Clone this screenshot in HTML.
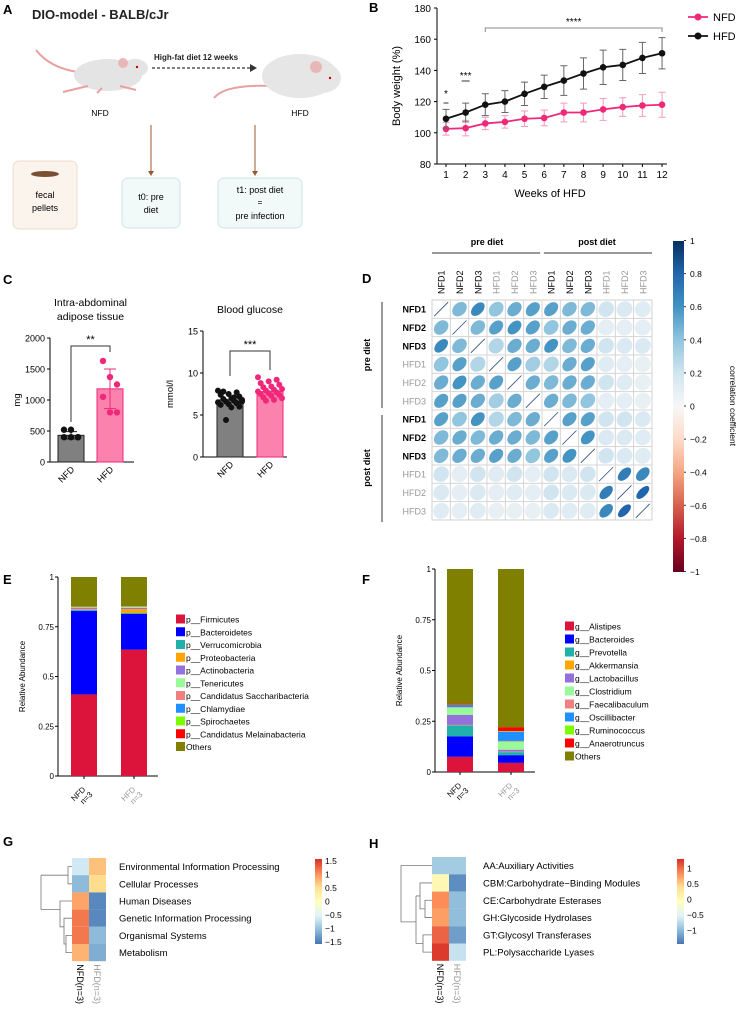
<!DOCTYPE html>
<html><head><meta charset="utf-8"><style>
body{margin:0;background:#fff;}
svg{display:block;font-family:"Liberation Sans",sans-serif;}
</style></head><body>
<svg id="fig" width="740" height="1015" viewBox="0 0 740 1015">
<g font-weight="bold" font-size="13">
<text x="3" y="14">A</text><text x="369" y="12">B</text><text x="3" y="284">C</text><text x="362" y="283">D</text>
<text x="3" y="584">E</text><text x="362" y="584">F</text><text x="3" y="846">G</text><text x="369" y="848">H</text></g>
<!-- Panel A -->
<g>
<text x="32" y="19" font-size="13" font-weight="bold" fill="#222">DIO-model - BALB/cJr</text>
<path d="M78,72 Q50,68 36,50" stroke="#e8a0a0" stroke-width="2" fill="none"/>
<ellipse cx="108" cy="75" rx="34" ry="16" fill="#e4e4e4"/>
<ellipse cx="135" cy="68" rx="13" ry="9" fill="#e4e4e4"/>
<circle cx="123" cy="63" r="5" fill="#e8b8b8"/><circle cx="137" cy="67" r="1.2" fill="#c00"/>
<path d="M88,86 L63,92 M102,88 L97,93 M120,86 L136,90" stroke="#e8a0a0" stroke-width="2"/>
<line x1="152" y1="68" x2="250" y2="68" stroke="#333" stroke-width="1.2" stroke-dasharray="3,2"/>
<path d="M250,64 L257,68 L250,72Z" fill="#333"/>
<text x="154" y="60" font-size="8" font-weight="bold" fill="#222">High-fat diet 12 weeks</text>
<path d="M272,86 Q225,84 214,98" stroke="#e8a0a0" stroke-width="2" fill="none"/>
<ellipse cx="300" cy="76" rx="38" ry="22" fill="#e6e6e6"/>
<ellipse cx="322" cy="78" rx="19" ry="15" fill="#e6e6e6"/>
<circle cx="316" cy="67" r="6" fill="#e8b8b8"/><circle cx="330" cy="78" r="1.2" fill="#c00"/>
<text x="100" y="116" font-size="8.5" text-anchor="middle">NFD</text>
<text x="300" y="116" font-size="8.5" text-anchor="middle">HFD</text>
<line x1="151" y1="125" x2="151" y2="172" stroke="#9a5a2a" stroke-width="1"/><path d="M148,171 L151,176 L154,171Z" fill="#9a5a2a"/>
<line x1="255" y1="125" x2="255" y2="172" stroke="#9a5a2a" stroke-width="1"/><path d="M252,171 L255,176 L258,171Z" fill="#9a5a2a"/>
<rect x="13" y="161" width="64" height="68" rx="6" fill="#fbf4ec" stroke="#eddccb"/>
<ellipse cx="45" cy="174" rx="14" ry="3" fill="#7a5035"/>
<text x="45" y="198" font-size="9" text-anchor="middle">fecal</text><text x="45" y="211" font-size="9" text-anchor="middle">pellets</text>
<rect x="122" y="178" width="58" height="50" rx="6" fill="#f1f9f9" stroke="#cfe5e3"/>
<text x="151" y="200" font-size="9" text-anchor="middle">t0: pre</text><text x="151" y="213" font-size="9" text-anchor="middle">diet</text>
<rect x="218" y="178" width="84" height="50" rx="6" fill="#f1f9f9" stroke="#cfe5e3"/>
<text x="260" y="193" font-size="9" text-anchor="middle">t1: post diet</text><text x="260" y="205" font-size="8" text-anchor="middle">=</text><text x="260" y="219" font-size="9" text-anchor="middle">pre infection</text>
</g>
<g id="pB"></g>
<g id="pC"></g>
<g id="pD"></g>
<g id="pE"></g>
<g id="pF"></g>
<g id="pG"></g>
<g id="pH"></g>
<defs>
<linearGradient id="rdbu" x1="0" y1="0" x2="0" y2="1">
<stop offset="0" stop-color="#053061"/><stop offset="0.1" stop-color="#2166ac"/><stop offset="0.2" stop-color="#4393c3"/><stop offset="0.3" stop-color="#92c5de"/><stop offset="0.4" stop-color="#d1e5f0"/><stop offset="0.5" stop-color="#f7f7f7"/><stop offset="0.6" stop-color="#fddbc7"/><stop offset="0.7" stop-color="#f4a582"/><stop offset="0.8" stop-color="#d6604d"/><stop offset="0.9" stop-color="#b2182b"/><stop offset="1" stop-color="#67001f"/></linearGradient>
<linearGradient id="ryb" x1="0" y1="1" x2="0" y2="0">
<stop offset="0" stop-color="#4575b4"/><stop offset="0.17" stop-color="#91bfdb"/><stop offset="0.33" stop-color="#e0f3f8"/><stop offset="0.5" stop-color="#ffffbf"/><stop offset="0.67" stop-color="#fee090"/><stop offset="0.83" stop-color="#fc8d59"/><stop offset="1" stop-color="#d73027"/></linearGradient>
</defs>
</svg>
<script>
const NS="http://www.w3.org/2000/svg";
function mk(p,t,a,txt){const e=document.createElementNS(NS,t);for(const k in a)e.setAttribute(k,a[k]);if(txt!==undefined)e.textContent=txt;p.appendChild(e);return e;}
// ---------- data ----------
const weeks=[1,2,3,4,5,6,7,8,9,10,11,12];
const nfdWeight=[102.5,103,106,107,109,109.5,113,113,115,116.5,117.5,118];
const nfdWeightErr=[4,5,4,4,5,5,6,6,7,6,7,8];
const hfdWeight=[109,113,118,120,125,129.5,133.5,138,142,143.5,148,151];
const hfdWeightErr=[6,6,7,7,7.5,7.5,9.5,10,11,10,10,10];
const weightTicks=[80,100,120,140,160,180];
const fatNFD=[520,520,400,400,400,400];
const fatHFD=[1630,1370,1250,1050,800,800];
const fatMeans=[430,1180];
const fatSD=[60,320];
const fatTicks=[0,500,1000,1500,2000];
const gluNFD=[7.9,7.7,7.5,7.4,7.2,7.0,6.9,6.8,6.7,6.6,6.5,6.4,6.3,6.2,6.0,5.9,7.8,6.6,7.1,4.4];
const gluHFD=[9.5,9.2,9.0,8.8,8.6,8.4,8.3,8.1,8.0,7.9,7.8,7.7,7.6,7.5,7.4,7.3,7.1,7.0,6.8,6.7];
const gluMeans=[6.8,7.8];
const gluTicks=[0,5,10,15];
const corrLabels=["NFD1","NFD2","NFD3","HFD1","HFD2","HFD3","NFD1","NFD2","NFD3","HFD1","HFD2","HFD3"];
const corr=[
[1,.45,.65,.4,.5,.55,.55,.45,.45,.2,.15,.12],
[.45,1,.45,.55,.6,.55,.4,.5,.5,.1,.1,.1],
[.65,.45,1,.3,.5,.5,.6,.45,.5,.2,.15,.15],
[.4,.55,.3,1,.55,.35,.3,.5,.55,.12,.1,.08],
[.5,.6,.5,.55,1,.5,.45,.5,.5,.2,.12,.08],
[.55,.55,.5,.35,.5,1,.5,.45,.4,.1,.1,.08],
[.55,.4,.6,.3,.45,.5,1,.55,.55,.2,.2,.15],
[.45,.5,.45,.5,.5,.45,.55,1,.6,.15,.15,.12],
[.45,.5,.5,.55,.5,.4,.55,.6,1,.2,.15,.12],
[.2,.1,.2,.12,.2,.1,.2,.15,.2,1,.7,.65],
[.15,.1,.15,.1,.12,.1,.2,.15,.15,.7,1,.8],
[.12,.1,.12,.08,.08,.08,.15,.12,.12,.65,.8,1]];
const corrTicks=[1,0.8,0.6,0.4,0.2,0,-0.2,-0.4,-0.6,-0.8,-1];
const phylumNames=["p__Firmicutes","p__Bacteroidetes","p__Verrucomicrobia","p__Proteobacteria","p__Actinobacteria","p__Tenericutes","p__Candidatus Saccharibacteria","p__Chlamydiae","p__Spirochaetes","p__Candidatus Melainabacteria","Others"];
const phylumColors=["#dc143c","#0000ff","#20b2aa","#ffa500","#9370db","#98fb98","#f08080","#1e90ff","#7cfc00","#ff0000","#808000"];
const phylumNFD=[.41,.42,.004,.004,.006,.003,.002,.001,.001,.001,.148];
const phylumHFD=[.635,.18,.004,.02,.006,.003,.002,.001,.001,.001,.147];
const genusNames=["g__Alistipes","g__Bacteroides","g__Prevotella","g__Akkermansia","g__Lactobacillus","g__Clostridium","g__Faecalibaculum","g__Oscillibacter","g__Ruminococcus","g__Anaerotruncus","Others"];
const genusNFD=[.075,.10,.055,.002,.05,.035,.003,.01,.002,.005,.663];
const genusHFD=[.045,.038,.015,.002,.01,.04,.003,.045,.003,.02,.779];
const keggNames=["Environmental Information Processing","Cellular Processes","Human Diseases","Genetic Information Processing","Organismal Systems","Metabolism"];
const keggNFD=[-0.7,-1.2,1.0,1.3,1.3,0.9];
const keggHFD=[0.8,0.6,-1.6,-1.6,-1.2,-1.3];
const keggTicks=[1.5,1,0.5,0,-0.5,-1,-1.5];
const cazyNames=["AA:Auxiliary Activities","CBM:Carbohydrate\u2212Binding Modules","CE:Carbohydrate Esterases","GH:Glycoside Hydrolases","GT:Glycosyl Transferases","PL:Polysaccharide Lyases"];
const cazyNFD=[-0.8,0.1,0.9,0.8,1.1,1.3];
const cazyHFD=[-0.8,-1.2,-0.9,-0.9,-1.1,-0.6];
const cazyTicks=[1,0.5,0,-0.5,-1];

// ---------- Panel B ----------
(function(){
const g=document.getElementById('pB');
const x=w=>446+(w-1)*19.64, y=v=>164-(v-80)*1.56;
mk(g,'line',{x1:437,y1:8,x2:437,y2:164,stroke:'#000','stroke-width':1});
mk(g,'line',{x1:437,y1:164,x2:667,y2:164,stroke:'#000','stroke-width':1});
weightTicks.forEach(t=>{mk(g,'line',{x1:434,y1:y(t),x2:437,y2:y(t),stroke:'#000'});
 const e=mk(g,'text',{x:431,y:y(t)+4,'font-size':10,'text-anchor':'end'},t);});
weeks.forEach(w=>{mk(g,'line',{x1:x(w),y1:164,x2:x(w),y2:167,stroke:'#000'});mk(g,'text',{x:x(w),y:178,'font-size':10,'text-anchor':'middle'},w);});
mk(g,'text',{x:550,y:197,'font-size':11,'text-anchor':'middle'},'Weeks of HFD');
mk(g,'text',{x:0,y:0,'font-size':11,'text-anchor':'middle',transform:'translate(400,86) rotate(-90)'},'Body weight (%)');
[[nfdWeight,nfdWeightErr,'#f0287a','#f49ab8','nfd'],[hfdWeight,hfdWeightErr,'#111','#666','hfd']].forEach(([d,e,c,ec,n])=>{
 d.forEach((v,i)=>{const xx=x(weeks[i]);
  mk(g,'path',{d:`M${xx},${y(v-e[i])}V${y(v+e[i])}M${xx-3.5},${y(v-e[i])}h7M${xx-3.5},${y(v+e[i])}h7`,stroke:ec,'stroke-width':1,fill:'none'});});
 const l=mk(g,'polyline',{points:d.map((v,i)=>x(weeks[i])+','+y(v)).join(' '),fill:'none',stroke:c,'stroke-width':1.8});
 
 d.forEach((v,i)=>{const p=mk(g,'circle',{cx:x(weeks[i]),cy:y(v),r:3.3,fill:c});});
});
mk(g,'text',{x:x(1),y:97,'font-size':10,'text-anchor':'middle'},'*');mk(g,'line',{x1:x(1)-2.5,y1:103,x2:x(1)+2.5,y2:103,stroke:'#333'});
mk(g,'text',{x:x(2),y:79,'font-size':10,'text-anchor':'middle'},'***');mk(g,'line',{x1:x(2)-4,y1:81,x2:x(2)+4,y2:81,stroke:'#333'});
mk(g,'path',{d:`M${x(3)},32V28H${x(12)}V32`,stroke:'#888',fill:'none'});
mk(g,'text',{x:(x(3)+x(12))/2,y:25,'font-size':10,'text-anchor':'middle'},'****');
[['NFD','#f0287a',17],['HFD','#111',36]].forEach(([t,c,yy])=>{const lg=mk(g,'g',{});
 mk(lg,'line',{x1:688,y1:yy,x2:708,y2:yy,stroke:c,'stroke-width':1.8});mk(lg,'circle',{cx:698,cy:yy,r:3.5,fill:c});mk(lg,'text',{x:713,y:yy+4,'font-size':11},t);});
})();

// ---------- Panel C ----------
function barChart(g,ax,y0,y1,vmax,ticks,means,ptsA,ptsB,sd,title,ylab,bx,sig,sigY,legY){
 const y=v=>y0-(v/vmax)*(y0-y1);
 mk(g,'line',{x1:ax,y1:y1,x2:ax,y2:y0,stroke:'#000'});mk(g,'line',{x1:ax,y1:y0,x2:ax+84,y2:y0,stroke:'#000'});
 ticks.forEach(t=>{mk(g,'line',{x1:ax-3,y1:y(t),x2:ax,y2:y(t),stroke:'#000'});mk(g,'text',{x:ax-5,y:y(t)+3.5,'font-size':9,'text-anchor':'end'},t);});
 const cols=[['#808080','#222'],['#fb82ad','#f0287a']];
 [0,1].forEach(i=>{const b=mk(g,'rect',{x:bx[i],y:y(means[i]),width:26,height:y0-y(means[i]),fill:cols[i][0],stroke:cols[i][1],'stroke-width':1});
  
  const cx=bx[i]+13;
  if(sd){mk(g,'path',{d:`M${cx},${y(means[i]-sd[i])}V${y(means[i]+sd[i])}M${cx-6},${y(means[i]+sd[i])}h12M${cx-6},${y(means[i]-sd[i])}h12`,stroke:i?'#f0287a':'#222',fill:'none'});}
  const pts=i?ptsB:ptsA;
  pts.forEach((v,k)=>{const off=sd?((k%3)-1)*7:(((k*7)%10)/9-0.5)*24;const p=mk(g,'circle',{cx:cx+off,cy:y(v),r:sd?3.2:3,fill:i?'#f0287a':'#111'});});
  mk(g,'text',{x:0,y:0,'font-size':9,'text-anchor':'end',transform:`translate(${cx+4},${y0+8}) rotate(-45)`},i?'HFD':'NFD');
 });
 mk(g,'path',{d:`M${bx[0]+13},${legY[0]}V${sigY}H${bx[1]+13}V${legY[1]}`,stroke:'#333',fill:'none'});
 mk(g,'text',{x:(bx[0]+bx[1])/2+13,y:sigY-3,'font-size':11,'text-anchor':'middle'},sig);
 title.forEach((t,k)=>mk(g,'text',{x:(bx[0]+bx[1])/2+13,y:(title.length==2?306:313)+k*14,'font-size':10.5,'text-anchor':'middle'},t));
 mk(g,'text',{x:0,y:0,'font-size':9.5,'text-anchor':'middle',transform:`translate(${ax-30},${(y0+y1)/2}) rotate(-90)`},ylab);
}
(function(){const g=document.getElementById('pC');
 barChart(g,50,462,338,2000,fatTicks,fatMeans,fatNFD,fatHFD,fatSD,['Intra-abdominal','adipose tissue'],'mg',[58,97],'**',346,[422,352]);
 barChart(g,203,457,331,15,gluTicks,gluMeans,gluNFD,gluHFD,null,['Blood glucose'],'mmol/l',[217,257],'***',351,[376,370]);
})();

// ---------- Panel D ----------
function blueScale(r){const st=[[0,[247,247,247]],[.2,[209,229,240]],[.4,[146,197,222]],[.6,[67,147,195]],[.8,[33,102,172]],[1,[5,48,97]]];
 for(let i=0;i<st.length-1;i++){if(r<=st[i+1][0]){const t=(r-st[i][0])/(st[i+1][0]-st[i][0]);const c=st[i][1].map((v,k)=>Math.round(v+(st[i+1][1][k]-v)*t));return `rgb(${c})`;}}return 'rgb(5,48,97)';}
(function(){const g=document.getElementById('pD');const X0=432,Y0=300,S=18.33;
 mk(g,'rect',{x:X0,y:Y0,width:S*12,height:S*12,fill:'#fff',stroke:'#ccc'});
 corr.forEach((row,i)=>row.forEach((r,j)=>{const cx=X0+(j+.5)*S,cy=Y0+(i+.5)*S;
  mk(g,'rect',{x:X0+j*S,y:Y0+i*S,width:S,height:S,fill:'none',stroke:'#d4d4d4','stroke-width':0.8});
  if(i===j){mk(g,'line',{x1:cx-7,y1:cy+7,x2:cx+7,y2:cy-7,stroke:'#2a4a7a','stroke-width':0.8});return;}
  const a=8.2,b=8.2*Math.sqrt(1-r*0.95);const e=mk(g,'ellipse',{cx:cx,cy:cy,rx:a,ry:b,fill:blueScale(r),transform:`rotate(-45 ${cx} ${cy})`});
  }));
 corrLabels.forEach((l,i)=>{const c=l[0]=='N'?'#000':'#999';
  mk(g,'text',{x:X0-6,y:Y0+(i+.5)*S+3.5,'font-size':9,'text-anchor':'end',fill:c,'font-weight':l[0]=='N'?'bold':'normal'},l);
  mk(g,'text',{x:0,y:0,'font-size':9,fill:c,transform:`translate(${X0+(i+.5)*S+3.5},${Y0-6}) rotate(-90)`},l);});
 mk(g,'text',{x:X0+S*3,y:245,'font-size':9,'font-weight':'bold','text-anchor':'middle'},'pre diet');
 mk(g,'text',{x:X0+S*9,y:245,'font-size':9,'font-weight':'bold','text-anchor':'middle'},'post diet');
 mk(g,'line',{x1:X0,y1:253,x2:X0+S*5.9,y2:253,stroke:'#333'});mk(g,'line',{x1:X0+S*6.1,y1:253,x2:X0+S*12,y2:253,stroke:'#333'});
 mk(g,'line',{x1:382,y1:302,x2:382,y2:408,stroke:'#333'});mk(g,'line',{x1:382,y1:415,x2:382,y2:522,stroke:'#333'});
 mk(g,'text',{x:0,y:0,'font-size':9,'font-weight':'bold','text-anchor':'middle',transform:'translate(370,355) rotate(-90)'},'pre diet');
 mk(g,'text',{x:0,y:0,'font-size':9,'font-weight':'bold','text-anchor':'middle',transform:'translate(370,468) rotate(-90)'},'post diet');
 const cb=mk(g,'rect',{x:673,y:241,width:11,height:331,fill:'url(#rdbu)'});
 corrTicks.forEach(t=>{const yy=406-t*165.5;mk(g,'line',{x1:684,y1:yy,x2:686,y2:yy,stroke:'#333'});mk(g,'text',{x:690,y:yy+3.5,'font-size':8.5},String(t).replace('-','\u2212'));});
 mk(g,'text',{x:0,y:0,'font-size':8.5,'text-anchor':'middle',transform:'translate(730,406) rotate(90)'},'correlation coefficient');
})();

// ---------- Panels E/F ----------
function stacked(g,ax,yT,yB,bx,dA,dB,names,ticks,lx,ly,ls){
 const y=v=>yB-v*(yB-yT);
 mk(g,'line',{x1:ax,y1:yT,x2:ax,y2:yB,stroke:'#000'});mk(g,'line',{x1:ax,y1:yB,x2:ax+100,y2:yB,stroke:'#000'});
 ticks.forEach(t=>{mk(g,'line',{x1:ax-3,y1:y(t),x2:ax,y2:y(t),stroke:'#000'});mk(g,'text',{x:ax-4,y:y(t)+3,'font-size':8,'text-anchor':'end'},t);});
 mk(g,'text',{x:0,y:0,'font-size':8,'text-anchor':'middle',transform:`translate(${ax-33},${(yT+yB)/2}) rotate(-90)`},'Relative Abundance');
 [dA,dB].forEach((d,i)=>{let acc=0;d.forEach((v,k)=>{const r=mk(g,'rect',{x:bx[i],y:y(acc+v),width:26,height:y(acc)-y(acc+v),fill:phylumColors[k]});
  acc+=v;});
  mk(g,'line',{x1:bx[i]+13,y1:yB,x2:bx[i]+13,y2:yB+3,stroke:'#000'});
  const c=i?'#999':'#000';mk(g,'text',{x:0,y:0,'font-size':8,'text-anchor':'end',fill:c,transform:`translate(${bx[i]+15},${yB+14}) rotate(-45)`},i?'HFD':'NFD');
  mk(g,'text',{x:0,y:0,'font-size':8,'text-anchor':'end',fill:c,transform:`translate(${bx[i]+22},${yB+19}) rotate(-45)`},'n=3');});
 names.forEach((n,k)=>{const lg=mk(g,'g',{});
  mk(lg,'rect',{x:lx,y:ly+k*ls-4.5,width:9,height:9,fill:phylumColors[k]});mk(lg,'text',{x:lx+10,y:ly+k*ls+3.5,'font-size':8.5},n);});
}
stacked(document.getElementById('pE'),58,577,776,[71,121],phylumNFD,phylumHFD,phylumNames,[0,0.25,0.5,0.75,1],176,619,12.75);
stacked(document.getElementById('pF'),435,569,772,[447,498],genusNFD,genusHFD,genusNames,[0,0.25,0.5,0.75,1],565,626,13);

// ---------- Panels G/H ----------
function rybScale(v,m){const st=['#4575b4','#91bfdb','#e0f3f8','#ffffbf','#fee090','#fc8d59','#d73027'].map(h=>[1,3,5].map(i=>parseInt(h.substr(i,2),16)));
 let t=(v+m)/(2*m)*6;t=Math.max(0,Math.min(5.999,t));const i=Math.floor(t),f=t-i;const c=st[i].map((x,k)=>Math.round(x+(st[i+1][k]-x)*f));return `rgb(${c})`;}
function heat(g,cx0,cy0,cw,ch,a,b,names,lx,cbx,ticks,m,dendro,tickFn){
 [a,b].forEach((d,j)=>d.forEach((v,i)=>{const r=mk(g,'rect',{x:cx0+j*cw,y:cy0+i*ch,width:cw,height:ch,fill:rybScale(v,m)});}));
 names.forEach((n,i)=>mk(g,'text',{x:lx,y:cy0+(i+.5)*ch+3.5,'font-size':9.5},n));
 mk(g,'text',{x:0,y:0,'font-size':9,transform:`translate(${cx0+cw/2-3.5},${cy0+6*ch+3}) rotate(90)`},'NFD(n=3)');
 mk(g,'text',{x:0,y:0,'font-size':9,fill:'#999',transform:`translate(${cx0+cw*1.5-3.5},${cy0+6*ch+3}) rotate(90)`},'HFD(n=3)');
 mk(g,'path',{d:dendro,stroke:'#777',fill:'none','stroke-width':0.8});
 const cb=mk(g,'rect',{x:cbx,y:859,width:7,height:85,fill:'url(#ryb)'});
 ticks.forEach(t=>mk(g,'text',{x:cbx+10,y:tickFn(t)+3.5,'font-size':8.5},String(t).replace('-','\u2212')));
}
const rc=(y0,h,i)=>y0+(i+.5)*h;
(function(){const y0=858,h=17.2,x=72;const c=i=>rc(y0,h,i);
 const d=`M${x},${c(0)}H68V${c(1)}H${x} M68,${(c(0)+c(1))/2}H41 M${x},${c(4)}H66V${c(5)}H${x} M${x},${c(3)}H64V${(c(4)+c(5))/2}H66 M64,${(c(3)+c(4))/2}H60V${c(2)}H${x} M60,${(c(2)+c(3))/2}H41 M41,${(c(0)+c(1))/2}V${(c(2)+c(3))/2}`;
 heat(document.getElementById('pG'),72,y0,17,h,keggNFD,keggHFD,keggNames,119,315,keggTicks,1.75,d,t=>901-t*27);})();
(function(){const y0=857,h=17.3,x=432;const c=i=>rc(y0,h,i);
 const d=`M${x},${c(2)}H425V${c(3)}H${x} M425,${(c(2)+c(3))/2}H420V${c(1)}H${x} M${x},${c(4)}H423V${c(5)}H${x} M423,${(c(4)+c(5))/2}H416 M420,${(c(1)+c(2.5))/2}H416 M416,${(c(1)+c(2.5))/2}V${(c(4)+c(5))/2} M416,${(c(3)+c(3.5))/2}H401V${c(0)}H${x}`;
 heat(document.getElementById('pH'),432,y0,17,h,cazyNFD,cazyHFD,cazyNames,483,677,cazyTicks,1.35,d,t=>899-t*31);})();
</script>
</body></html>
